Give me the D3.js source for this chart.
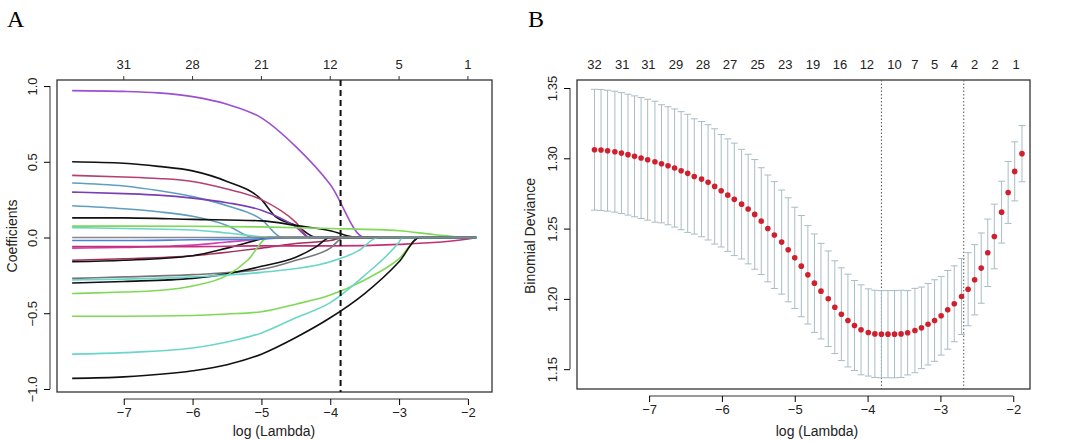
<!DOCTYPE html>
<html><head><meta charset="utf-8">
<script src="https://cdn.jsdelivr.net/npm/d3@7"></script>
<style>body{margin:0;background:#fff}svg{font-family:"Liberation Sans",Arial,sans-serif}</style>
</head><body><svg id="c" width="1080" height="441"></svg>
<script>
// ---- Panel A data: coefficient paths (log lambda, coefficient)
const pathColors = ["#9b4fd1","#111111","#b5406f","#5f9ec0","#7a3fb5","#5f9ec0","#111111","#7ed957","#6ad6c8","#d43fb8","#a0305a","#111111","#c2307a","#777777","#111111","#7ed957","#6ad6c8","#7ed957","#6ad6c8","#111111","#4a7fe0","#888888"];
const pathPoints = [
 [[-7.75,0.97],[-7,0.965],[-6.5,0.955],[-6,0.93],[-5.5,0.88],[-5,0.79],[-4.5,0.60],[-4,0.35],[-3.5,0]],
 [[-7.75,0.50],[-7,0.49],[-6.5,0.47],[-6,0.44],[-5.5,0.37],[-5,0.25],[-4.8,0.14],[-4.5,0.08],[-4.2,0]],
 [[-7.75,0.41],[-7,0.40],[-6.5,0.39],[-6,0.37],[-5.5,0.32],[-5,0.25],[-4.5,0.10],[-4.3,0]],
 [[-7.75,0.36],[-7,0.34],[-6.5,0.31],[-6,0.27],[-5.5,0.21],[-5,0.12],[-4.7,0]],
 [[-7.75,0.30],[-7,0.29],[-6.5,0.28],[-6,0.26],[-5.5,0.23],[-5,0.18],[-4.5,0.07],[-4.3,0]],
 [[-7.75,0.21],[-7,0.19],[-6.5,0.17],[-6,0.14],[-5.5,0.08],[-5.1,0]],
 [[-7.75,0.13],[-7,0.13],[-6,0.12],[-5,0.11],[-4.5,0.08],[-4,0.045],[-3.6,0]],
 [[-7.75,0.075],[-7,0.075],[-6,0.074],[-5,0.07],[-4,0.06],[-3,0.045],[-2.5,0.02],[-2,0]],
 [[-7.75,0.065],[-7,0.06],[-6,0.05],[-5.5,0.03],[-4.8,0]],
 [[-7.75,-0.07],[-7,-0.065],[-6,-0.05],[-5.5,-0.03],[-5,-0.01],[-4.8,0]],
 [[-7.75,-0.15],[-7,-0.14],[-6,-0.12],[-5,-0.07],[-4.5,-0.04],[-4,-0.02],[-3.8,0]],
 [[-7.75,-0.16],[-7,-0.15],[-6,-0.12],[-5.5,-0.07],[-5,-0.01],[-4.9,0]],
 [[-7.75,-0.06],[-7,-0.06],[-6,-0.06],[-5,-0.055],[-4,-0.055],[-3,-0.045],[-2,-0.01],[-1.88,0]],
 [[-7.75,-0.27],[-7,-0.26],[-6,-0.245],[-5,-0.21],[-4.5,-0.15],[-4,-0.07],[-3.8,0]],
 [[-7.75,-0.30],[-7,-0.29],[-6,-0.27],[-5.5,-0.24],[-5,-0.19],[-4.5,-0.13],[-4.2,-0.06],[-4,0]],
 [[-7.75,-0.37],[-7,-0.36],[-6.5,-0.35],[-6,-0.32],[-5.5,-0.25],[-5.2,-0.15],[-4.9,0]],
 [[-7.75,-0.28],[-7,-0.275],[-6,-0.26],[-5,-0.23],[-4,-0.16],[-3.6,-0.09],[-3.3,0]],
 [[-7.75,-0.52],[-7,-0.52],[-6,-0.515],[-5.5,-0.505],[-5,-0.49],[-4.5,-0.44],[-4,-0.38],[-3.5,-0.28],[-3,-0.14],[-2.7,0]],
 [[-7.75,-0.77],[-7,-0.76],[-6,-0.73],[-5.5,-0.69],[-5,-0.63],[-4.5,-0.53],[-4,-0.43],[-3.5,-0.25],[-3,-0.03],[-2.95,0]],
 [[-7.75,-0.93],[-7,-0.92],[-6,-0.88],[-5.5,-0.84],[-5,-0.77],[-4.5,-0.66],[-4,-0.53],[-3.5,-0.37],[-3,-0.16],[-2.7,0]],
 [[-7.75,-0.02],[-7,-0.02],[-6,-0.015],[-5,-0.01],[-4.5,0]],
 [[-7.75,0.0],[-7,0.0],[-6,0.0],[-3.5,0]]
];
const topTicksA = [-7,-6,-5,-4,-3,-2];
const topLabelsA = ["31","28","21","12","5","1"];
const lambdaLineA = -3.85;

// ---- Panel B data: cross-validation
const logLambda = [-7.75,-7.66,-7.57,-7.47,-7.38,-7.29,-7.20,-7.11,-7.02,-6.92,-6.83,-6.74,-6.65,-6.56,-6.47,-6.38,-6.28,-6.19,-6.10,-6.01,-5.92,-5.83,-5.73,-5.64,-5.55,-5.46,-5.37,-5.28,-5.18,-5.09,-5.00,-4.91,-4.82,-4.73,-4.64,-4.54,-4.45,-4.36,-4.27,-4.18,-4.09,-3.99,-3.90,-3.81,-3.72,-3.63,-3.54,-3.45,-3.35,-3.26,-3.17,-3.08,-2.99,-2.90,-2.81,-2.71,-2.62,-2.53,-2.44,-2.35,-2.26,-2.16,-2.07,-1.98,-1.88];
const cvMean = [1.3061,1.3059,1.3054,1.3047,1.3037,1.3026,1.3014,1.3002,1.2990,1.2976,1.2961,1.2947,1.2931,1.2912,1.2893,1.2871,1.2852,1.2829,1.2800,1.2769,1.2738,1.2708,1.2674,1.2639,1.2601,1.2553,1.2501,1.2454,1.2404,1.2349,1.2292,1.2233,1.2171,1.2112,1.2055,1.2001,1.1941,1.1891,1.1846,1.1811,1.1780,1.1761,1.1751,1.1749,1.1749,1.1749,1.1751,1.1759,1.1775,1.1794,1.1820,1.1846,1.1880,1.1922,1.1965,1.2017,1.2069,1.2136,1.2219,1.2328,1.2444,1.2617,1.2757,1.2907,1.3033];
const cvSE = [0.043,0.043,0.043,0.043,0.043,0.043,0.043,0.043,0.043,0.043,0.042,0.042,0.042,0.042,0.042,0.041,0.041,0.041,0.041,0.040,
 0.040,0.040,0.039,0.039,0.039,0.038,0.038,0.038,0.037,0.037,0.036,0.036,0.035,0.035,0.034,0.034,0.033,0.033,0.033,0.032,
 0.032,0.031,0.031,0.031,0.031,0.031,0.031,0.030,0.030,0.029,0.029,0.029,0.028,
 0.028,0.027,0.027,0.026,0.025,0.025,0.024,0.023,0.022,0.022,0.021,0.020];
const topPosB = [-7.75,-7.37,-7.01,-6.63,-6.26,-5.89,-5.51,-5.13,-4.75,-4.38,-4.01,-3.63,-3.35,-3.08,-2.81,-2.53,-2.25,-1.96];
const topLabelsB = ["32","31","31","29","28","27","25","23","19","16","12","10","7","5","4","2","2","1"];
const vLinesB = [-3.81,-2.68];

const svg = d3.select("#c");
const minus = s => s.replace("-","\u2212");
function frame(g, x, y, xt, yt, yfmt){
  const [x0,x1]=x.range(), [y1,y0]=y.range();
  g.append("rect").attr("x",x0).attr("y",y0).attr("width",x1-x0).attr("height",y1-y0).attr("fill","none").attr("stroke","#333").attr("stroke-width",1.3);
  const ax=g.append("g").attr("transform",`translate(0,${y1+7})`).call(d3.axisBottom(x).tickValues(xt).tickFormat(d=>minus(String(d))).tickSizeOuter(0).tickSize(6));
  ax.select(".domain").attr("d",`M${x(xt[0])},0H${x(xt[xt.length-1])}`).attr("stroke","#333");
  ax.selectAll("text").attr("font-size",13).attr("fill","#222");
  const ay=g.append("g").attr("transform",`translate(${x0-7},0)`).call(d3.axisLeft(y).tickValues(yt).tickFormat(yfmt).tickSize(6).tickSizeOuter(0));
  ay.select(".domain").attr("d",`M0,${y(yt[0])}V${y(yt[yt.length-1])}`).attr("stroke","#333");
  ay.selectAll(".tick text").attr("font-size",13).attr("transform","rotate(-90)").attr("x",0).attr("y",-17).attr("dy","0.32em").attr("text-anchor","middle").attr("fill","#222");
}

// Panel A
const xA=d3.scaleLinear().domain([-7.97,-1.65]).range([57,492]);
const yA=d3.scaleLinear().domain([-1.02,1.04]).range([392,80]);
const gA=svg.append("g");
frame(gA,xA,yA,[-7,-6,-5,-4,-3,-2],[-1,-0.5,0,0.5,1],d=>minus(d3.format(".1f")(d)));
const line=d3.line().x(d=>xA(d[0])).y(d=>yA(d[1])).curve(d3.curveMonotoneX);
pathPoints.forEach((p,i)=>{
  const pts=p.concat([[-1.88,0]]);
  gA.append("path").attr("d",line(pts)).attr("fill","none").attr("stroke",pathColors[i]).attr("stroke-width",1.6);
});
gA.append("line").attr("x1",xA(lambdaLineA)).attr("x2",xA(lambdaLineA)).attr("y1",80).attr("y2",392).attr("stroke","#111").attr("stroke-width",2).attr("stroke-dasharray","6,4");
topTicksA.forEach((t,i)=>{
  gA.append("line").attr("x1",xA(t)).attr("x2",xA(t)).attr("y1",76).attr("y2",80).attr("stroke","#333");
  gA.append("text").attr("x",xA(t)).attr("y",69).attr("text-anchor","middle").attr("font-size",13).attr("fill","#222").text(topLabelsA[i]);
});
gA.append("text").attr("x",274).attr("y",436).attr("text-anchor","middle").attr("font-size",14).attr("fill","#222").text("log (Lambda)");
gA.append("text").attr("transform","translate(17,236) rotate(-90)").attr("text-anchor","middle").attr("font-size",14).attr("fill","#222").text("Coefficients");
svg.append("text").attr("x",7).attr("y",27).attr("font-family","Liberation Serif, serif").attr("font-size",24).text("A");

// Panel B
const xB=d3.scaleLinear().domain([-7.99,-1.77]).range([577,1030]);
const yB=d3.scaleLinear().domain([1.1359,1.3557]).range([389,80]);
const gB=svg.append("g");
frame(gB,xB,yB,[-7,-6,-5,-4,-3,-2],[1.15,1.2,1.25,1.3,1.35],d=>d3.format(".2f")(d));
vLinesB.forEach(v=>gB.append("line").attr("x1",xB(v)).attr("x2",xB(v)).attr("y1",80).attr("y2",389).attr("stroke","#555").attr("stroke-width",1).attr("stroke-dasharray","1.5,2"));
const ebColor="#a9bcc4";
logLambda.forEach((l,i)=>{
  const cx=xB(l), lo=yB(cvMean[i]-cvSE[i]), hi=yB(cvMean[i]+cvSE[i]);
  gB.append("line").attr("x1",cx).attr("x2",cx).attr("y1",lo).attr("y2",hi).attr("stroke",ebColor).attr("stroke-width",1);
  [lo,hi].forEach(yy=>gB.append("line").attr("x1",cx-3.5).attr("x2",cx+3.5).attr("y1",yy).attr("y2",yy).attr("stroke",ebColor).attr("stroke-width",1));
});
gB.selectAll("circle.pt").data(logLambda).join("circle").attr("cx",d=>xB(d)).attr("cy",(d,i)=>yB(cvMean[i])).attr("r",2.8).attr("fill","#d0202e");
topPosB.forEach((t,i)=>{
  gB.append("text").attr("x",xB(t)).attr("y",69).attr("text-anchor","middle").attr("font-size",13).attr("fill","#222").text(topLabelsB[i]);
});
gB.append("text").attr("x",817).attr("y",436).attr("text-anchor","middle").attr("font-size",14).attr("fill","#222").text("log (Lambda)");
gB.append("text").attr("transform","translate(535,236) rotate(-90)").attr("text-anchor","middle").attr("font-size",14).attr("fill","#222").text("Binomial Deviance");
svg.append("text").attr("x",528).attr("y",27).attr("font-family","Liberation Serif, serif").attr("font-size",24).text("B");
</script></body></html>
